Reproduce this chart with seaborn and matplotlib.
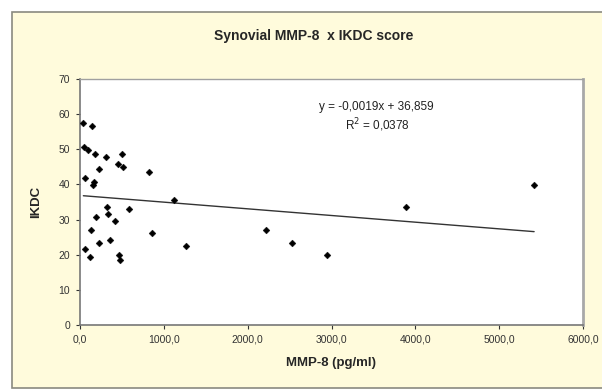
import matplotlib.pyplot as plt
import matplotlib.patches as mpatches
import numpy as np
import pandas as pd
import seaborn as sns

# Values
mmp8 = [40, 139, 52, 99, 178, 306, 496, 456, 508, 230, 60, 171, 151, 821,
        1123, 317, 587, 329, 187, 417, 127, 853, 357, 230, 1262, 60, 119,
        464, 476, 2222, 2528, 2944, 3889, 5417]
ikdc = [57.5, 56.5, 50.6, 49.9, 48.6, 47.8, 48.7, 45.8, 45.1, 44.4, 41.8,
        40.8, 39.9, 43.4, 35.6, 33.7, 33.0, 31.5, 30.6, 29.7, 26.9, 26.1,
        24.2, 23.4, 22.6, 21.6, 19.3, 19.9, 18.5, 27.1, 23.3, 19.9, 33.5, 39.9]
slope = -0.0019
intercept = 36.859
r2 = 0.0378
x_ticks = [0, 1000, 2000, 3000, 4000, 5000, 6000]
y_ticks = [0, 10, 20, 30, 40, 50, 60, 70]

df = pd.DataFrame({"MMP-8": mmp8, "IKDC": ikdc})
trend = pd.DataFrame({"x": [min(mmp8), max(mmp8)]})
trend["y"] = slope * trend["x"] + intercept

sns.set_style("white")
plt.rcParams['font.family'] = ['Liberation Sans', 'DejaVu Sans']

fig = plt.figure(figsize=(6.02, 3.90), dpi=100)
fig.patch.set_facecolor("white")
# chart area frame
frame = mpatches.Rectangle((12 / 602, 2 / 390), 600 / 602, 376 / 390,
                           transform=fig.transFigure, facecolor="#fffbdc",
                           edgecolor="#8a8a80", linewidth=1.2, zorder=-5)
fig.patches.append(frame)

ax = fig.add_axes([80 / 602, 65 / 390, 503 / 602, 246 / 390])
ax.set_zorder(2)
ax.set_facecolor("white")

sns.lineplot(data=trend, x="x", y="y", ax=ax, color="#333333", linewidth=1.0)
sns.scatterplot(data=df, x="MMP-8", y="IKDC", ax=ax, color="black", s=12,
                marker="D", edgecolor="black", linewidth=0.3, zorder=3)

ax.set_xlim(0, 6000)
ax.set_ylim(0, 70)
ax.set_xticks(x_ticks)
ax.set_xticklabels([f"{v:.1f}".replace(".", ",") for v in x_ticks])
ax.set_yticks(y_ticks)
ax.tick_params(axis="both", labelsize=7.5, colors="#333333", length=3,
               direction="out", width=0.8, left=True, bottom=True, pad=4)
ax.spines["top"].set_color("#a0a0a0")
ax.spines["top"].set_linewidth(1.0)
ax.spines["right"].set_color("#a8a8a8")
ax.spines["right"].set_linewidth(2.0)
for s in ["left", "bottom"]:
    ax.spines[s].set_color("#777777")
    ax.spines[s].set_linewidth(1.2)

ax.set_xlabel("MMP-8 (pg/ml)", fontsize=9.5, fontweight="bold", labelpad=9)
ax.set_ylabel("IKDC", fontsize=9.5, fontweight="bold", labelpad=12)
fig.text(314 / 602, 1 - 36 / 390, "Synovial MMP-8  x IKDC score",
         ha="center", va="center", fontsize=10, fontweight="bold")

eq = f"y = {slope:.4f}x + {intercept:.3f}".replace(".", ",")
ax.text((376 - 80) / 503, 1 - (107 - 79) / 246, eq, transform=ax.transAxes,
        ha="center", va="center", fontsize=8.5, color="#222222")
ax.text((377 - 80) / 503, 1 - (125 - 79) / 246,
        f"R$^2$ = {r2:.4f}".replace(".", ","), transform=ax.transAxes,
        ha="center", va="center", fontsize=8.5, color="#222222")

fig.savefig("out.png", dpi=100)
